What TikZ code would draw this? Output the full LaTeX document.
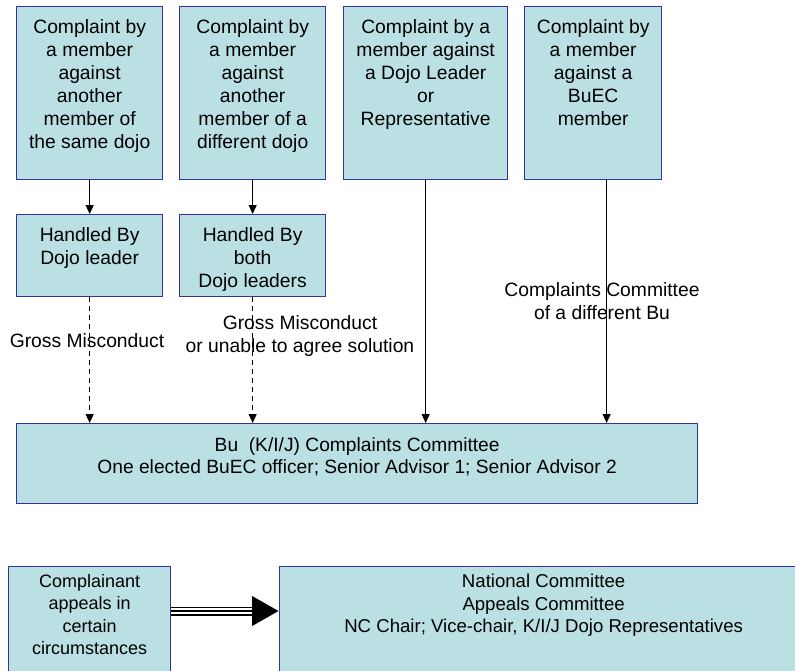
\documentclass[tikz,border=0pt]{standalone}
\usepackage{fontspec}
\setmainfont{Liberation Sans}
\usetikzlibrary{arrows.meta,positioning}
\definecolor{boxfill}{RGB}{187,224,227}
\definecolor{boxline}{RGB}{51,51,153}

\begin{document}
\begin{tikzpicture}[x=1pt, y=-1pt,
        box/.style={rectangle, draw=boxline, fill=boxfill, line width=1.3pt, inner sep=0pt, anchor=north west},
        txt/.style={inner sep=0pt, anchor=north, align=center, font=\fontsize{19.3}{23}\selectfont},
        small/.style={txt, font=\fontsize{18}{22.5}\selectfont},
        flow/.style={-{Triangle[length=9pt, width=8pt]}, line width=1.1pt},
        escal/.style={flow, dash pattern=on 5pt off 4pt},
    ]
        \clip (0,0) rectangle (795,670);

        % Complaint boxes
        \node[box, minimum width=146pt, minimum height=173pt] (same) at (16,6) {};
        \node[box, minimum width=146pt, minimum height=173pt] (other) at (179,6) {};
        \node[box, minimum width=164pt, minimum height=173pt] (leader) at (343,6) {};
        \node[box, minimum width=137pt, minimum height=173pt] (buec) at (524,6) {};
        \node[txt, below=13.2pt of same.north] (sametxt) {Complaint by\\a member\\against\\another\\member of\\the same dojo};
        \node[txt, below=13.2pt of other.north] (othertxt) {Complaint by\\a member\\against\\another\\member of a\\different dojo};
        \node[txt, below=13.2pt of leader.north] (leadertxt) {Complaint by a\\member against\\a Dojo Leader\\or\\Representative};
        \node[txt, below=13.2pt of buec.north] (buectxt) {Complaint by\\a member\\against a\\BuEC\\member};

        % Handled by dojo leaders
        \node[box, minimum width=146pt, minimum height=82pt] (hone) at (16,214) {};
        \node[box, minimum width=146pt, minimum height=82pt] (hboth) at (179,214) {};
        \node[txt, below=13.2pt of hone.north] (honetxt) {Handled By\\Dojo leader};
        \node[txt, below=13.2pt of hboth.north] (hbothtxt) {Handled By\\both\\Dojo leaders};

        % Bu complaints committee
        \node[box, minimum width=681pt, minimum height=80pt] (bu) at (16,423) {};
        \node[txt, font=\fontsize{19.2}{22}\selectfont, below=14.3pt of bu.north] (butxt) {Bu\ \ (K/I/J) Complaints Committee\\One elected BuEC officer; Senior Advisor 1; Senior Advisor 2};

        % Appeals
        \node[box, minimum width=162pt, minimum height=130pt] (appeal) at (8,566) {};
        \node[box, minimum width=528pt, minimum height=130pt] (nc) at (279,566) {};
        \node[small, below=8.1pt of appeal.north] (appealtxt) {Complainant\\appeals in\\certain\\circumstances};
        \node[small, font=\fontsize{18.6}{22.8}\selectfont, below=7.7pt of nc.north] (nctxt) {National Committee\\Appeals Committee\\NC Chair; Vice-chair, K/I/J Dojo Representatives};

        % Connectors
        \draw[flow] (same.south) -- (hone.north);
        \draw[flow] (other.south) -- (hboth.north);
        \draw[flow] (leader.south) -- (leader.south |- bu.north);
        \coordinate (buecout) at ([xshift=13.5pt]buec.south);
        \draw[flow] (buecout) -- (buecout |- bu.north);
        \draw[escal] (hone.south) -- (hone.south |- bu.north);
        \draw[escal] (hboth.south) -- (hboth.south |- bu.north);

        \node[txt] (gross) at (87,333.4) {Gross Misconduct};
        \node[txt] (grossagree) at (300,315.4) {Gross Misconduct\\or unable to agree solution};
        \node[txt] (otherbu) at (602,282.4) {Complaints Committee\\of a different Bu};

        % Appeal arrow
        \coordinate (appmid) at (0,611);
        \draw[-{Triangle[length=27pt, width=28pt]}, line width=9pt] (appmid -| appeal.east) -- (appmid -| nc.west);
        \draw[white, line width=5.5pt, shorten >=27pt] (appmid -| appeal.east) -- (appmid -| nc.west);
        \draw[line width=1.8pt, shorten >=27pt] (appmid -| appeal.east) -- (appmid -| nc.west);
    \end{tikzpicture}
\end{document}
